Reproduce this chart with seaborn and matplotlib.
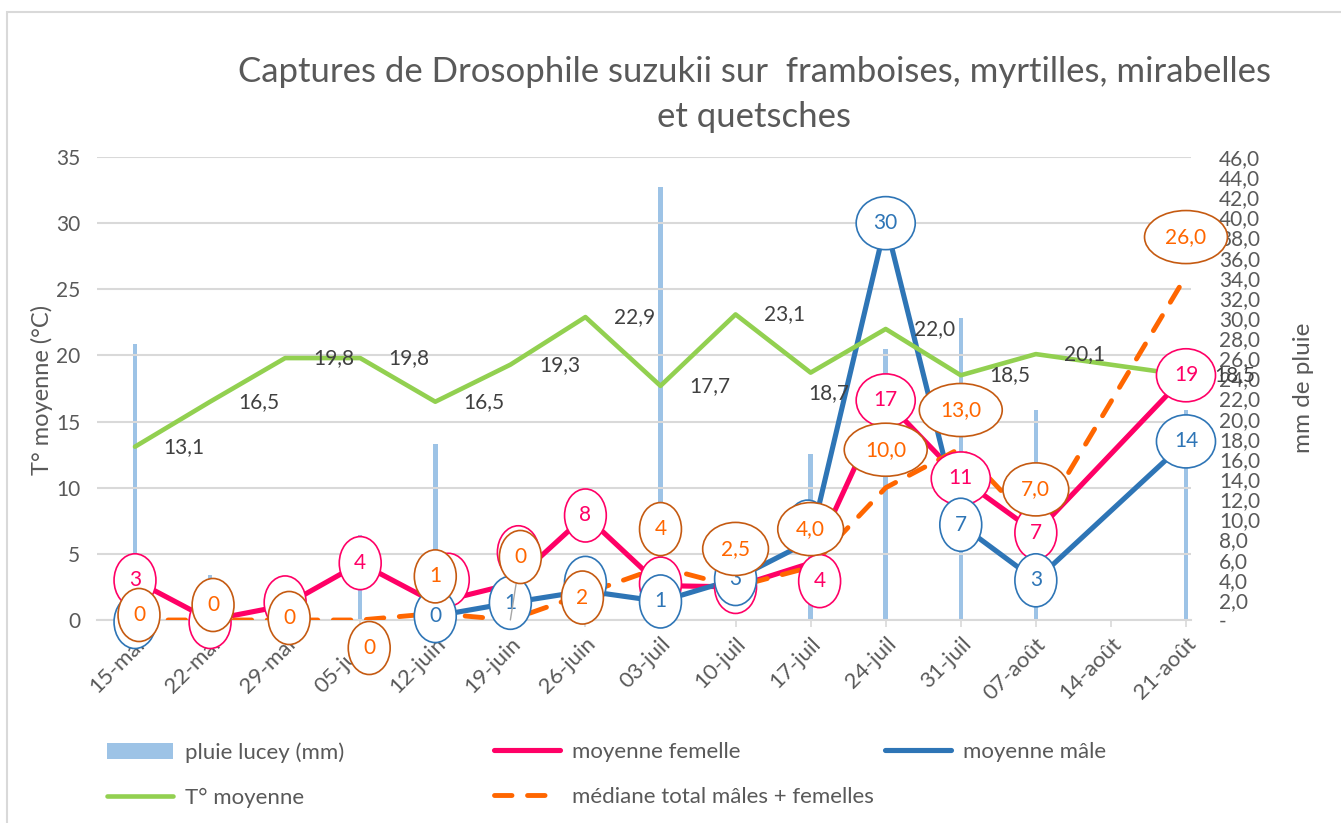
import math
import numpy as np
import pandas as pd
import matplotlib
matplotlib.use("Agg")
import matplotlib.pyplot as plt
from matplotlib.patches import Rectangle, Patch
from matplotlib.lines import Line2D
import seaborn as sns

nan = float("nan")

# ---------------- data ----------------
categories = ["15-mai", "22-mai", "29-mai", "05-juin", "12-juin", "19-juin", "26-juin",
              "03-juil", "10-juil", "17-juil", "24-juil", "31-juil", "07-août", "14-août", "21-août"]
rain_mm = [27.4, 4.5, 0, 8.4, 17.5, 0, 0, 43.0, 0, 16.5, 26.9, 30.0, 20.9, 0, 20.9]
female_mean = [3.0, 0.0, 1.1, 4.3, 1.3, 2.7, 7.9, 2.6, 2.5, 4.3, 16.6, 10.7, 6.6, nan, 18.5]
male_mean = [0.0, nan, nan, nan, 0.3, 1.3, 2.2, 1.4, 3.1, 6.0, 30.0, 7.2, 3.0, nan, 13.5]
temp_mean = [13.1, 16.5, 19.8, 19.8, 16.5, 19.3, 22.9, 17.7, 23.1, 18.7, 22.0, 18.5, 20.1, nan, 18.5]
median_total = [0, 0, 0, 0, 0.5, 0, 2, 4, 2.5, 4, 10, 13, 7, nan, 26]

title_lines = ["Captures de Drosophile suzukii sur  framboises, myrtilles, mirabelles", "et quetsches"]
left_ticks = [0, 5, 10, 15, 20, 25, 30, 35]
right_ticks = list(range(0, 47, 2))

# ---------------- styles / label placement (pixels) ----------------
C_RAIN = "#9DC3E6"
C_FEM = "#FF0066"
C_MALE = "#2E75B6"
C_TEMP = "#92D050"
C_MED = "#FF6600"
C_MED_EDGE = "#C55A11"
C_TXT = "#595959"
C_GRID = "#D9D9D9"

female_off = [(0, 0), (0, -2), (0, 3), (0, 0), (13, 23), (8, 32), (0, 0), (0, 2), (0, 0), (9, -18),
              (0, 0), (0, 0), (0, 0), (0, 0), (0, 0)]
male_off = [(0, -2), (0, 0), (0, 0), (0, 0), (0, 0), (0, 0), (0, 8), (0, 0), (0, 0), (-3, 14),
            (0, 0), (0, 0), (0, 0), (0, 0), (0, 0)]
median_off = [(4, 5), (3, 15), (4, 2), (9, -28), (0, 37), (10, 63), (-3, -4), (0, 38), (0, 38), (0, 38),
              (0, 38), (0, 38), (0, 38), (0, 38), (0, 39)]
median_decimals = [0, 0, 0, 0, 0, 0, 0, 0, 1, 1, 1, 1, 1, 1, 1]
temp_off = [(49, 0)] * 15
temp_off[9] = (18, -20)

FS_LBL = 15
FS_TICK = 15
FS_XTICK = 16
FS_LEG = 16

W, H = 1341, 823
sns.set_theme(style="white")
plt.rcParams["font.family"] = ["Lato", "DejaVu Sans"]

fig = plt.figure(figsize=(W / 100, H / 100), dpi=100)
fig.patch.set_facecolor("white")


def fx(px):
    return px / W


def fy(py):
    return 1 - py / H


AX_L, AX_R, AX_T, AX_B = 97, 1191, 157, 620
ax = fig.add_axes([fx(AX_L), fy(AX_B), (AX_R - AX_L) / W, (AX_B - AX_T) / H])
ax2 = ax.twinx()

n = len(categories)
df = pd.DataFrame({"date": categories, "rain": rain_mm})

# rain bars on the secondary axis
sns.barplot(data=df, x="date", y="rain", order=categories, ax=ax2, color=C_RAIN,
            saturation=1, width=0.06, linewidth=0, legend=False)

# lines on primary axis (drawn above the bars)
ax.set_zorder(ax2.get_zorder() + 1)
ax.patch.set_visible(False)

series_list = [female_mean, male_mean, temp_mean, median_total]
all_missing = {i for i in range(n) if all(np.isnan(s[i]) for s in series_list)}


def segments(vals):
    idx = [i for i in range(n) if not np.isnan(vals[i])]
    segs, cur = [], []
    for i in idx:
        if cur and any(j not in all_missing for j in range(cur[-1] + 1, i)):
            segs.append(cur)
            cur = []
        cur.append(i)
    if cur:
        segs.append(cur)
    return segs


def draw_series(vals, color, lw, dashed=False):
    for seg in segments(vals):
        if len(seg) < 2:
            continue
        kw = dict(solid_capstyle="round", solid_joinstyle="round")
        if dashed:
            kw = dict(linestyle=(0, (3.6, 3.2)), dash_capstyle="round", dash_joinstyle="round")
        sns.lineplot(x=seg, y=[vals[i] for i in seg], ax=ax, color=color, lw=lw,
                     estimator=None, sort=False, legend=False, zorder=3, **kw)


draw_series(female_mean, C_FEM, 3.7)
draw_series(male_mean, C_MALE, 3.7)
draw_series(temp_mean, C_TEMP, 3.3)
draw_series(median_total, C_MED, 3.5, dashed=True)


def rhu(v):
    return int(math.floor(v + 0.5))


def ell_label(i, v, text, off, tcolor, ecolor, z, leader=False):
    kw = {}
    if leader:
        kw["arrowprops"] = dict(arrowstyle="-", color="#A6A6A6", lw=1.0, shrinkA=0, shrinkB=0)
    ax.annotate(text, xy=(i, v), xytext=off, textcoords="offset pixels",
                ha="center", va="center", fontsize=FS_LBL, color=tcolor, zorder=z,
                bbox=dict(boxstyle="ellipse,pad=0.42", fc="white", ec=ecolor, lw=1.2),
                annotation_clip=False, **kw)


for i, v in enumerate(female_mean):
    if not np.isnan(v):
        ell_label(i, v, str(rhu(v)), female_off[i], C_FEM, C_FEM, 10)
for i, v in enumerate(male_mean):
    if not np.isnan(v):
        ell_label(i, v, str(rhu(v)), male_off[i], C_MALE, C_MALE, 11)
for i, v in enumerate(temp_mean):
    if not np.isnan(v):
        ax.annotate(f"{v:.1f}".replace(".", ","), xy=(i, v), xytext=temp_off[i],
                    textcoords="offset pixels", ha="center", va="center", fontsize=FS_LBL,
                    color="#404040", zorder=12, annotation_clip=False)
for i, v in enumerate(median_total):
    if not np.isnan(v):
        if median_decimals[i] == 0:
            t = str(rhu(v))
        else:
            t = f"{v:.1f}".replace(".", ",")
        ell_label(i, v, t, median_off[i], C_MED, C_MED_EDGE, 13, leader=(median_off[i][1] > 50))

# ---------------- axes styling ----------------
ax.set_xlim((AX_L - 135) / 75.07, (AX_R - 135) / 75.07)
ax.set_ylim(0, 35)
ax2.set_ylim(0, 46)

ax.set_yticks(left_ticks)
ax.set_yticklabels([str(t) for t in left_ticks])
ax2.set_yticks(right_ticks)
ax2.set_yticklabels(["-" if t == 0 else f"{t:.1f}".replace(".", ",") for t in right_ticks])

ax.set_xticks(range(n))
ax.set_xticklabels(categories)
for lab in ax.get_xticklabels():
    lab.set_rotation(45)
    lab.set_ha("right")
    lab.set_va("top")
    lab.set_rotation_mode("anchor")

ax.tick_params(axis="y", length=0, pad=12, labelsize=FS_TICK, labelcolor=C_TXT)
ax2.tick_params(axis="y", length=0, pad=20, labelsize=FS_TICK, labelcolor=C_TXT)
ax.tick_params(axis="x", length=5, width=1.2, color=C_GRID, pad=5, labelsize=FS_XTICK,
               labelcolor=C_TXT, direction="out", bottom=True)

ax.grid(axis="y", color=C_GRID, lw=1.5)
ax.grid(axis="x", visible=False)
ax2.grid(False)
ax.set_xlabel("")
ax.set_ylabel("")
ax2.set_xlabel("")
ax2.set_ylabel("")
for a in (ax, ax2):
    for s in ("top", "left", "right", "bottom"):
        a.spines[s].set_visible(False)
ax.spines["bottom"].set_visible(True)
ax.spines["bottom"].set_color(C_GRID)
ax.spines["bottom"].set_linewidth(1.5)

# ---------------- texts ----------------
fig.text(fx(754), fy(72), title_lines[0], ha="center", va="center", fontsize=25,
         color=C_TXT)
fig.text(fx(754), fy(117), title_lines[1], ha="center", va="center", fontsize=25,
         color=C_TXT)
fig.text(fx(42), fy(390), "T° moyenne (°C)", rotation=90, ha="center", va="center",
         fontsize=17, color=C_TXT)
fig.text(fx(1304), fy(388), "mm de pluie", rotation=90, ha="center", va="center",
         fontsize=17.5, color=C_TXT)

# outer chart border
fig.add_artist(Rectangle((fx(7), -0.1), 2, fy(12) + 0.1, transform=fig.transFigure,
                         fill=False, edgecolor=C_GRID, lw=1.5))

# ---------------- legend (3 columns laid out like Excel) ----------------
h_rain = Patch(facecolor=C_RAIN, edgecolor="none", label="pluie lucey (mm)")
h_fem = Line2D([], [], color=C_FEM, lw=3.7, solid_capstyle="round", label="moyenne femelle")
h_male = Line2D([], [], color=C_MALE, lw=3.7, solid_capstyle="round", label="moyenne mâle")
h_temp = Line2D([], [], color=C_TEMP, lw=3.3, solid_capstyle="round", label="T° moyenne")
h_med = Line2D([], [], color=C_MED, lw=3.5, linestyle=(0, (3.6, 3.2)), dash_capstyle="round",
               label="médiane total mâles + femelles")

cols = [([h_rain, h_temp], 107), ([h_fem, h_med], 494), ([h_male], 885)]
for handles, xpx in cols:
    fig.legend(handles=handles, loc="upper left", bbox_to_anchor=(fx(xpx), fy(742)),
               frameon=False, fontsize=FS_LEG, handlelength=2.95, handletextpad=0.55,
               borderpad=0, borderaxespad=0, labelspacing=1.12, labelcolor=C_TXT)

fig.savefig("out.png", dpi=100, facecolor="white")
